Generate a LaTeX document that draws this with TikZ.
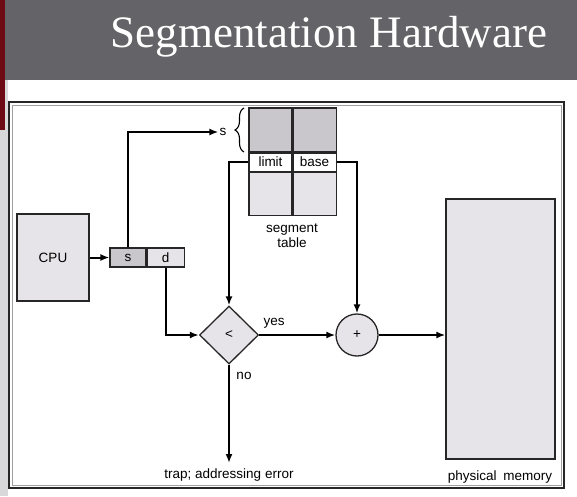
\documentclass[tikz,border=0pt]{standalone}
\usepackage{fontspec}
\setmainfont{Liberation Sans}
\newfontfamily\titlefont{Liberation Serif}
\usepackage{xcolor}
\definecolor{barGray}{HTML}{646367}
\definecolor{slideRed}{HTML}{6E0A14}
\definecolor{stripGray}{HTML}{D8D8DA}
\definecolor{boxFill}{HTML}{E6E4E8}
\definecolor{cellDark}{HTML}{C9C6CC}
\definecolor{frameGray}{HTML}{A0A0A2}
\usetikzlibrary{
    shapes.geometric,
    arrows.meta,
    decorations.pathreplacing,
    positioning
}
\tikzset{
    % Base style for all diagram parts
    part base/.style={
        font=\fontsize{13.5}{15}\selectfont,
        draw=black!85,
        line width=1.3pt,
        inner sep=0pt,
    },
    % CPU and memory boxes
    unit/.style={
        part base,
        rectangle,
        fill=boxFill,
    },
    % Cells of the address and of the table
    cell/.style={
        part base,
        rectangle,
        line width=1.1pt,
        fill=boxFill,
    },
    cell dark/.style={
        cell,
        fill=cellDark,
    },
    % Compare diamond
    decision/.style={
        part base,
        diamond,
        aspect=1,
        minimum width=59pt,
        minimum height=58pt,
        fill=boxFill,
    },
    % Adder circle
    adder/.style={
        part base,
        circle,
        minimum size=42pt,
        fill=boxFill,
    },
    % Plain text labels
    tag/.style={
        font=\fontsize{13.5}{15}\selectfont,
        inner sep=1pt,
        align=center,
    },
    % Connector
    arrow/.style={
        -{Latex[length=9pt, width=7pt]},
        line width=2pt,
    },
}

\begin{document}
\begin{tikzpicture}[x=1pt, y=-1pt]
    \useasboundingbox (0,0) rectangle (577,496);

    % slide background
    \fill[barGray] (5,0) rectangle (577,80);
    \fill[stripGray] (0,80) rectangle (8,496);
    \fill[slideRed] (0,0) rectangle (5,130);
    \node (title) [text=white, font=\titlefont\fontsize{45}{50}\selectfont] at (329,37) {Segmentation Hardware};

    % frame
    \draw[black!85, line width=2pt] (9,102) rectangle (564,488);
    \draw[frameGray, line width=0.8pt] (12,105) rectangle (561,485);

    % cpu and logical address
    \node (cpu) [unit, minimum width=72pt, minimum height=87pt] at (53,257.5) {CPU};
    \node (regS) [cell dark, minimum width=36pt, minimum height=19pt] at (128,257.5) {s};
    \node (regD) [cell, minimum width=37pt, minimum height=19pt, right=0pt of regS] {d};

    % segment table
    \node (topL) [cell dark, minimum width=43pt, minimum height=44pt] at (270.5,130) {};
    \node (topR) [cell dark, minimum width=43pt, minimum height=44pt, right=0pt of topL] {};
    \node (limit) [cell, fill=white, minimum width=43pt, minimum height=18pt, below=0pt of topL] {limit};
    \node (base) [cell, fill=white, minimum width=43pt, minimum height=18pt, below=0pt of topR] {base};
    \node (lowL) [cell, minimum width=43pt, minimum height=43pt, below=0pt of limit] {};
    \node (lowR) [cell, minimum width=43pt, minimum height=43pt, below=0pt of base] {};
    \node (segTable) [tag] at (292,236) {segment\\table};
    \node (sIndex) [tag] at (223,132) {s};
    \draw[line width=1.1pt, decorate, decoration={brace, amplitude=9pt}]
        (244,152) -- (244,108);

    % compare and add
    \node (cmp) [decision] at (229,335) {<};
    \node (add) [adder] at (357,335) {+};
    \node (yes) [tag] at (274,323) {yes};
    \node (no) [tag] at (244,376) {no};

    % physical memory
    \node (mem) [unit, minimum width=109pt, minimum height=260pt] at (500.5,329) {};
    \node (memLabel) [tag] at (500,477) {physical\enspace memory};

    % trap
    \coordinate (trapTip) at (229,463);
    \node (trap) [tag, below=5pt of trapTip] {trap; addressing error};

    \draw [arrow] (cpu.east) -- (regS.west);
    \draw [arrow] (regS.north) |- (sIndex.west);
    \draw [arrow] (limit.west) -| (cmp.north);
    \draw [arrow] (base.east) -| (add.north);
    \draw [arrow] (regD.south) |- (cmp.west);
    \draw [arrow] (cmp.east) -- (add.west);
    \draw [arrow] (add.east) -- (add.east -| mem.west);
    \draw [arrow] (cmp.south) -- (trapTip);
\end{tikzpicture}
\end{document}
